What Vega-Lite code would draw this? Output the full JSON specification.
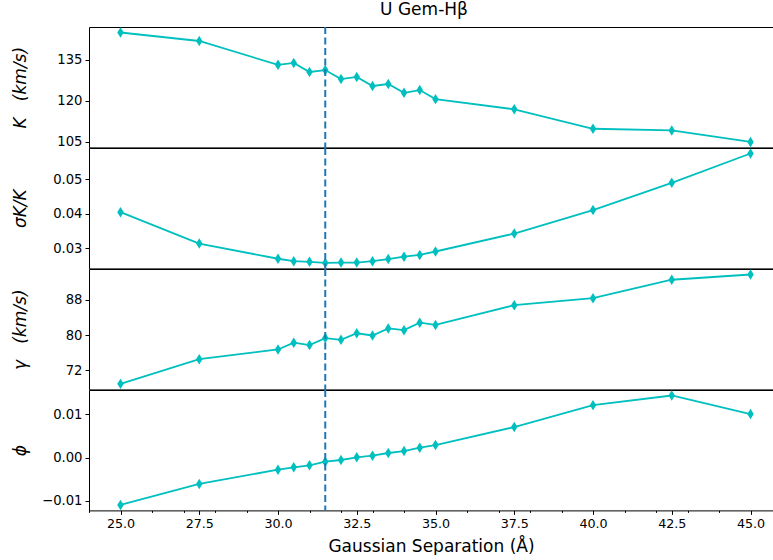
{
  "$schema": "https://vega.github.io/schema/vega-lite/v6.json",
  "padding": {"left": 10, "top": 0, "right": 0, "bottom": 0},
  "spacing": 0,
  "bounds": "flush",
  "datasets": {
    "d": [
      {"x": 25, "K": 144.9, "sK": 0.0404, "g": 68.86, "phi": -0.01093},
      {"x": 27.5, "K": 141.8, "sK": 0.0313, "g": 74.5, "phi": -0.00608},
      {"x": 30, "K": 133.1, "sK": 0.0269, "g": 76.7, "phi": -0.00277},
      {"x": 30.5, "K": 133.8, "sK": 0.0262, "g": 78.25, "phi": -0.00223},
      {"x": 31, "K": 130.5, "sK": 0.026, "g": 77.7, "phi": -0.00177},
      {"x": 31.5, "K": 131.2, "sK": 0.0257, "g": 79.3, "phi": -0.00092},
      {"x": 32, "K": 127.9, "sK": 0.0258, "g": 78.9, "phi": -0.00054},
      {"x": 32.5, "K": 128.7, "sK": 0.0258, "g": 80.4, "phi": 0.00008},
      {"x": 33, "K": 125.4, "sK": 0.0262, "g": 79.9, "phi": 0.00046},
      {"x": 33.5, "K": 126.1, "sK": 0.0268, "g": 81.5, "phi": 0.00108},
      {"x": 34, "K": 122.9, "sK": 0.0275, "g": 81.1, "phi": 0.00154},
      {"x": 34.5, "K": 123.9, "sK": 0.028, "g": 82.8, "phi": 0.00231},
      {"x": 35, "K": 120.6, "sK": 0.029, "g": 82.3, "phi": 0.00293},
      {"x": 37.5, "K": 116.9, "sK": 0.0342, "g": 86.8, "phi": 0.00709},
      {"x": 40, "K": 109.8, "sK": 0.041, "g": 88.4, "phi": 0.01216},
      {"x": 42.5, "K": 109.2, "sK": 0.0489, "g": 92.6, "phi": 0.01439},
      {"x": 45, "K": 105.0, "sK": 0.0574, "g": 93.8, "phi": 0.01009}
    ],
    "sep": [{"x": 31.5}]
  },
  "config": {
    "font": "DejaVu Sans",
    "view": {"stroke": "black", "strokeWidth": 1},
    "axis": {
      "labelFont": "DejaVu Sans", "labelFontSize": 12.7, "labelColor": "black",
      "titleFont": "DejaVu Sans", "titleFontSize": 17, "titleFontWeight": "normal", "titleColor": "black",
      "tickColor": "black", "tickSize": 4, "labelPadding": 3, "domain": false, "grid": false, "labelOverlap": false
    },
    "axisY": {"labelFontSize": 13.2}
  },
  "vconcat": [
    {
      "width": 684, "height": 120.4,
      "title": {"text": "U Gem-Hβ", "fontSize": 17, "fontWeight": "normal", "font": "DejaVu Sans", "color": "black", "anchor": "middle", "frame": "group", "dx": -7, "offset": 7},
      "encoding": {"x": {"field": "x", "type": "quantitative", "scale": {"domain": [24, 45.714], "nice": false, "zero": false}, "axis": null}},
      "layer": [
        {"data": {"name": "d"}, "mark": {"type": "line", "color": "#00bfbf", "strokeWidth": 1.8},
         "encoding": {
           "y": {"field": "K", "type": "quantitative", "scale": {"domain": [103.0, 146.9], "nice": false, "zero": false},
                 "axis": {"values": [105, 120, 135], "format": "d", "title": "K\u00a0\u00a0\u00a0(km/s)", "titleFontStyle": "italic", "titleX": -69, "titleY": 60.2, "titleAngle": -90, "titleAlign": "center", "titleBaseline": "middle"}}
         }},
        {"data": {"name": "d"}, "mark": {"type": "point", "shape": "M0,-1L0.62,0L0,1L-0.62,0Z", "filled": true, "size": 110, "color": "#00bfbf", "opacity": 1},
         "encoding": {"y": {"field": "K", "type": "quantitative"}}},
        {"data": {"name": "sep"}, "mark": {"type": "rule", "color": "#1f77b4", "strokeWidth": 2, "strokeDash": [7, 3.5]}, "encoding": {}}
      ]
    },
    {
      "width": 684, "height": 120.4,
      "encoding": {"x": {"field": "x", "type": "quantitative", "scale": {"domain": [24, 45.714], "nice": false, "zero": false}, "axis": null}},
      "layer": [
        {"data": {"name": "d"}, "mark": {"type": "line", "color": "#00bfbf", "strokeWidth": 1.8},
         "encoding": {
           "y": {"field": "sK", "type": "quantitative", "scale": {"domain": [0.0241, 0.059], "nice": false, "zero": false},
                 "axis": {"values": [0.03, 0.04, 0.05], "format": ".2f", "title": "σK/K", "titleFontStyle": "italic", "titleX": -69, "titleY": 60.2, "titleAngle": -90, "titleAlign": "center", "titleBaseline": "middle"}}
         }},
        {"data": {"name": "d"}, "mark": {"type": "point", "shape": "M0,-1L0.62,0L0,1L-0.62,0Z", "filled": true, "size": 110, "color": "#00bfbf", "opacity": 1},
         "encoding": {"y": {"field": "sK", "type": "quantitative"}}},
        {"data": {"name": "sep"}, "mark": {"type": "rule", "color": "#1f77b4", "strokeWidth": 2, "strokeDash": [7, 3.5]}, "encoding": {}}
      ]
    },
    {
      "width": 684, "height": 120.4,
      "encoding": {"x": {"field": "x", "type": "quantitative", "scale": {"domain": [24, 45.714], "nice": false, "zero": false}, "axis": null}},
      "layer": [
        {"data": {"name": "d"}, "mark": {"type": "line", "color": "#00bfbf", "strokeWidth": 1.8},
         "encoding": {
           "y": {"field": "g", "type": "quantitative", "scale": {"domain": [67.6, 95.05], "nice": false, "zero": false},
                 "axis": {"values": [72, 80, 88], "format": "d", "title": "γ\u00a0\u00a0\u00a0(km/s)", "titleFontStyle": "italic", "titleX": -69, "titleY": 60.2, "titleAngle": -90, "titleAlign": "center", "titleBaseline": "middle"}}
         }},
        {"data": {"name": "d"}, "mark": {"type": "point", "shape": "M0,-1L0.62,0L0,1L-0.62,0Z", "filled": true, "size": 110, "color": "#00bfbf", "opacity": 1},
         "encoding": {"y": {"field": "g", "type": "quantitative"}}},
        {"data": {"name": "sep"}, "mark": {"type": "rule", "color": "#1f77b4", "strokeWidth": 2, "strokeDash": [7, 3.5]}, "encoding": {}}
      ]
    },
    {
      "width": 684, "height": 120.4,
      "encoding": {"x": {"field": "x", "type": "quantitative", "scale": {"domain": [24, 45.714], "nice": false, "zero": false},
                 "axis": {"values": [24, 25, 26, 27, 27.5, 28, 29, 30, 31, 32, 32.5, 33, 34, 35, 36, 37, 37.5, 38, 39, 40, 41, 42, 42.5, 43, 44, 45],
                          "labelExpr": "datum.value % 2.5 === 0 ? format(datum.value, '.1f') : ''",
                          "tickSize": {"condition": {"test": "datum.value % 2.5 === 0", "value": 4}, "value": 2},
                          "labelOverlap": false, "labelFlush": false, "title": "Gaussian Separation (Å)", "titlePadding": 8}}},
      "layer": [
        {"data": {"name": "d"}, "mark": {"type": "line", "color": "#00bfbf", "strokeWidth": 1.8},
         "encoding": {
           "y": {"field": "phi", "type": "quantitative", "scale": {"domain": [-0.0122, 0.01566], "nice": false, "zero": false},
                 "axis": {"values": [-0.01, 0, 0.01], "format": ".2f", "title": "ϕ", "titleFontStyle": "italic", "titleX": -69, "titleY": 60.2, "titleAngle": -90, "titleAlign": "center", "titleBaseline": "middle"}}
         }},
        {"data": {"name": "d"}, "mark": {"type": "point", "shape": "M0,-1L0.62,0L0,1L-0.62,0Z", "filled": true, "size": 110, "color": "#00bfbf", "opacity": 1},
         "encoding": {"y": {"field": "phi", "type": "quantitative"}}},
        {"data": {"name": "sep"}, "mark": {"type": "rule", "color": "#1f77b4", "strokeWidth": 2, "strokeDash": [7, 3.5]}, "encoding": {}}
      ]
    }
  ]
}
